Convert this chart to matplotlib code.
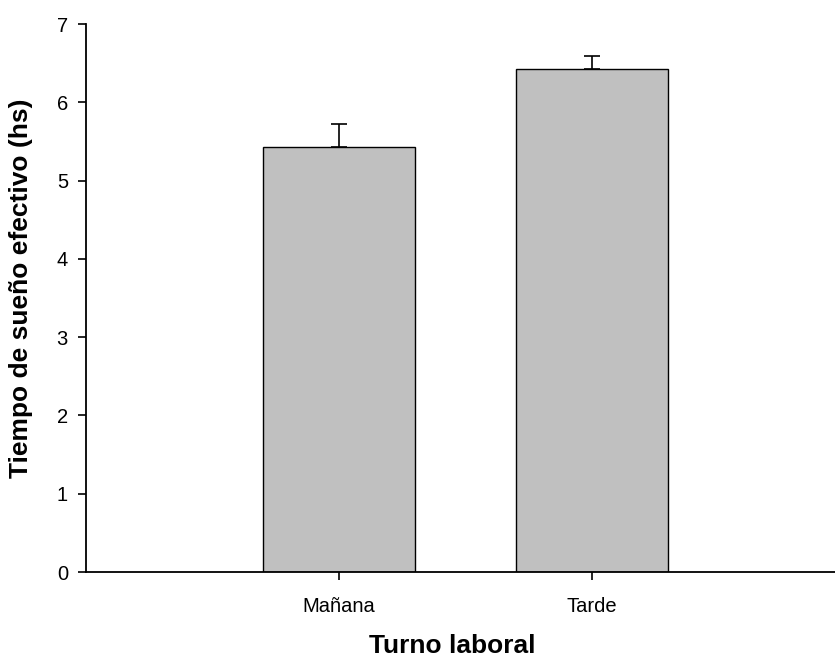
import matplotlib
matplotlib.use("Agg")
import matplotlib.pyplot as plt

categories = ["Mañana", "Tarde"]
values = [5.43, 6.42]
errors = [0.29, 0.17]
yticks = [0, 1, 2, 3, 4, 5, 6, 7]

plt.rcParams['font.family'] = ['Liberation Sans', 'DejaVu Sans']

W, H = 835, 657
fig = plt.figure(figsize=(W / 100, H / 100), dpi=100)
left, right, top, bottom = 86, 845, 24, 572
ax = fig.add_axes([left / W, 1 - bottom / H, (right - left) / W, (bottom - top) / H])

x = [1, 2]
ax.bar(x, values, width=0.6, color='#c0c0c0', edgecolor='black', linewidth=1.0, zorder=2)
ax.errorbar(x, values, yerr=[[0, 0], errors], fmt='none', ecolor='black',
            elinewidth=1.2, capsize=6, capthick=1.2, zorder=3)

ax.set_xlim(0, 3)
ax.set_ylim(0, 7)
ax.set_xticks(x)
ax.set_xticklabels(categories)
ax.set_yticks(yticks)
ax.spines['top'].set_visible(False)
ax.spines['right'].set_visible(False)
for s in ['left', 'bottom']:
    ax.spines[s].set_linewidth(1.3)
ax.tick_params(axis='both', direction='out', length=6, width=1.2, labelsize=14.5)
ax.tick_params(axis='y', pad=7)
ax.tick_params(axis='x', pad=12)

ax.set_xlabel("Turno laboral", fontsize=19, fontweight='bold')
ax.set_ylabel("Tiempo de sueño efectivo (hs)", fontsize=19, fontweight='bold')
ax.xaxis.label.set_va('center')
ax.yaxis.label.set_va('center')
ax.xaxis.set_label_coords((452 - left) / (right - left), -(646 - bottom) / (bottom - top))
ax.yaxis.set_label_coords(-(left - 21) / (right - left), (bottom - 288) / (bottom - top))

fig.savefig("out.png", dpi=100)
